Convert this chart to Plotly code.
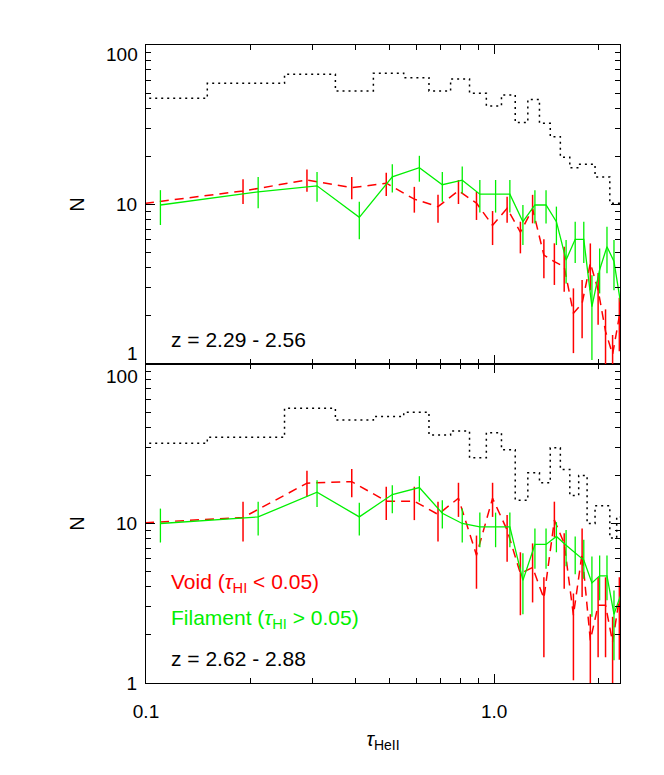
import plotly.graph_objects as go

# ---------------- data ----------------
tau_bins = [0.1, 0.2, 0.3, 0.4, 0.5, 0.6, 0.7, 0.8, 0.9, 1.0, 1.1, 1.2,
            1.3, 1.4, 1.5, 1.6, 1.7, 1.8, 1.9, 2.0, 2.1, 2.2, 2.3]
bin_half = 0.05
offset = 0.01   # void points plotted slightly left, filament slightly right

# top panel z = 2.29 - 2.56
hist_top = [46.3, 57.5, 65.5, 51.5, 66.5, 62.4, 51.5, 61.2, 49.8, 41.5, 48.6, 32.7,
            45.6, 32.3, 26.6, 19.8, 17.0, 17.9, 17.9, 14.9, 14.9, 10.2, 10.2]
void_top = [9.9, 12.15, 14.25, 12.75, 13.6, 10.8, 9.69, 12.2, 10.2, 7.4, 9.46, 6.7,
            9.4, 4.82, 4.38, 4.07, 2.08, 2.4, 4.3, 2.91, 1.6, 1.15, 2.0]
void_top_hi = [12.3, 14.4, 16.6, 14.9, 15.8, 12.9, 11.5, 14.25, 12.0, 9.1, 11.2, 7.8,
               11.5, 6.05, 5.71, 5.44, 2.98, 3.36, 5.7, 3.72, 2.2, 1.52, 2.6]
void_top_lo = [7.8, 10.07, 12.0, 10.8, 11.3, 8.89, 7.69, 10.07, 8.0, 5.57, 7.69, 4.94,
               7.62, 3.45, 3.13, 2.84, 1.17, 1.45, 2.9, 1.76, 0.9, 0.8, 1.2]
fil_top = [9.93, 12.0, 13.1, 8.31, 14.9, 17.0, 13.3, 14.2, 11.6, 11.6, 11.6, 7.8,
           9.93, 9.93, 7.8, 4.49, 6.05, 6.05, 2.29, 3.9, 5.44, 4.4, 2.4]
fil_top_hi = [12.3, 14.9, 16.0, 10.4, 17.9, 20.2, 16.0, 17.3, 14.25, 14.25, 14.25, 9.93,
              12.3, 12.3, 9.7, 6.0, 7.8, 7.8, 3.6, 5.3, 7.26, 6.0, 3.4]
fil_top_lo = [7.44, 9.46, 10.4, 6.05, 11.9, 13.9, 10.4, 11.7, 8.9, 8.9, 8.9, 5.57,
              7.6, 7.6, 5.57, 3.2, 4.3, 4.3, 1.06, 2.77, 3.7, 2.9, 1.5]

# bottom panel z = 2.62 - 2.88
hist_bot = [31.8, 34.7, 52.8, 44.6, 46.8, 49.8, 35.9, 38.0, 25.8, 37.1, 29.0, 14.0,
            20.8, 18.0, 29.8, 21.8, 15.0, 20.0, 10.0, 12.9, 12.9, 8.1, 11.0]
void_bot = [10.0, 10.9, 17.9, 18.3, 13.8, 13.8, 11.4, 14.4, 6.33, 14.4, 9.1, 4.86,
            5.3, 3.39, 10.5, 7.5, 2.66, 6.5, 1.85, 3.07, 3.07, 1.8, 3.4]
void_bot_hi = [12.5, 13.7, 21.4, 22.0, 17.0, 17.0, 13.7, 18.0, 8.4, 18.0, 11.3, 6.6,
               7.5, 4.6, 13.7, 8.7, 3.64, 9.3, 2.7, 4.6, 4.6, 2.6, 4.6]
void_bot_lo = [7.6, 7.7, 14.7, 14.6, 10.5, 10.5, 7.7, 11.0, 3.9, 11.0, 5.75, 2.66,
               3.2, 1.45, 8.2, 3.9, 1.04, 3.46, 0.9, 1.45, 1.45, 0.9, 1.4]
fil_bot = [10.0, 11.0, 15.7, 11.0, 15.2, 16.8, 11.6, 10.0, 9.53, 9.53, 9.53, 4.4,
           7.39, 7.39, 8.3, 7.3, 6.5, 5.9, 4.24, 4.7, 4.7, 2.7, 3.55]
fil_bot_hi = [12.4, 13.7, 18.7, 13.5, 17.4, 19.8, 14.0, 12.4, 11.7, 11.7, 11.7, 6.5,
              9.3, 9.3, 10.2, 9.1, 8.3, 7.9, 6.2, 6.3, 6.3, 3.8, 4.6]
fil_bot_lo = [7.6, 8.4, 12.7, 8.4, 11.6, 13.7, 9.3, 7.6, 7.1, 7.1, 7.1, 2.7,
              5.2, 5.2, 6.6, 5.4, 4.8, 4.5, 2.6, 3.3, 3.3, 1.39, 2.5]

x_ticks = [0.1, 1.0]
x_ticktext = ["0.1", "1.0"]
x_minor = [0.2, 0.3, 0.4, 0.5, 0.6, 0.7, 0.8, 0.9, 2.0]
y_minor = [2, 3, 4, 5, 6, 7, 8, 9, 20, 30, 40, 50, 60, 70, 80, 90]

RED = "#ff0000"
GREEN = "#00f000"
FONT = "Liberation Sans, Arial, Helvetica, sans-serif"

# page geometry (the html body adds an 8 px margin)
BODY = 8
W, H = 664 - BODY, 775 - BODY
L_PX, R_PX, T_PX, B_PX = 145.5, 620, 45, 683   # plot area in screenshot pixels

x_void = [t - offset for t in tau_bins]
x_fil = [t + offset for t in tau_bins]


def steps(centers, vals):
    xs, ys = [], []
    for c, v in zip(centers, vals):
        xs += [c - bin_half, c + bin_half]
        ys += [v, v]
    return xs, ys


fig = go.Figure()


def add_panel(xa, ya, hist, vv, vhi, vlo, fv, fhi, flo):
    hx, hy = steps(tau_bins, hist)
    fig.add_trace(go.Scatter(x=hx, y=hy, mode="lines", xaxis=xa, yaxis=ya,
                             line=dict(color="black", width=1.5, dash="2px,4px"),
                             showlegend=False, hoverinfo="skip"))
    fig.add_trace(go.Scatter(
        x=x_void, y=vv, mode="lines", xaxis=xa, yaxis=ya,
        line=dict(color=RED, width=1.5, dash="9px,6px"),
        error_y=dict(type="data", symmetric=False,
                     array=[h - v for h, v in zip(vhi, vv)],
                     arrayminus=[v - l for v, l in zip(vv, vlo)],
                     width=0, thickness=1.5, color=RED),
        showlegend=False))
    fig.add_trace(go.Scatter(
        x=x_fil, y=fv, mode="lines", xaxis=xa, yaxis=ya,
        line=dict(color=GREEN, width=1.3),
        error_y=dict(type="data", symmetric=False,
                     array=[h - v for h, v in zip(fhi, fv)],
                     arrayminus=[v - l for v, l in zip(fv, flo)],
                     width=0, thickness=1.3, color=GREEN),
        showlegend=False))


add_panel("x2", "y2", hist_top, void_top, void_top_hi, void_top_lo,
          fil_top, fil_top_hi, fil_top_lo)
add_panel("x", "y", hist_bot, void_bot, void_bot_hi, void_bot_lo,
          fil_bot, fil_bot_hi, fil_bot_lo)

common = dict(type="log", showgrid=False, zeroline=False, showline=True,
              linecolor="black", linewidth=1, mirror="ticks", ticks="inside",
              ticklen=9, tickwidth=1, tickcolor="black",
              tickfont=dict(family=FONT, size=19, color="black"))
minor = dict(ticks="inside", ticklen=5, tickcolor="black", showgrid=False)

xr = [-1, 0.3617]
fig.update_layout(
    width=W, height=H,
    margin=dict(l=L_PX - BODY, r=W - (R_PX - BODY), t=T_PX - BODY, b=H - (B_PX - BODY),
                autoexpand=False),
    paper_bgcolor="white", plot_bgcolor="white",
    font=dict(family=FONT, color="black"),
    xaxis=dict(common, domain=[0, 1], anchor="y", range=xr,
               tickvals=x_ticks, ticktext=x_ticktext, ticklabelstandoff=11,
               minor=dict(minor, tickvals=x_minor),
               title=dict(text="<i>τ</i><sub>HeII</sub>", font=dict(family=FONT, size=20),
                          standoff=11)),
    xaxis2=dict(common, domain=[0, 1], anchor="y2", range=xr, matches="x",
                showticklabels=False, tickvals=x_ticks,
                minor=dict(minor, tickvals=x_minor)),
    yaxis=dict(common, domain=[0, 0.5], anchor="x", range=[0, 2],
               tickvals=[1, 10], ticktext=["1", "10"], ticklabelstandoff=4,
               minor=dict(minor, tickvals=y_minor),
               title=dict(text="N", font=dict(family=FONT, size=20), standoff=26)),
    yaxis2=dict(common, domain=[0.5, 1], anchor="x2", range=[0, 2],
                tickvals=[10], ticktext=["10"], ticklabelstandoff=4,
                minor=dict(minor, tickvals=y_minor),
                title=dict(text="N", font=dict(family=FONT, size=20), standoff=26)),
)


def py(ypx):
    return (B_PX - ypx) / (B_PX - T_PX)


def px(xpx):
    return (xpx - L_PX) / (R_PX - L_PX)


# edge tick labels nudged inside their panel (as in the original)
for txt, ypx in [("100", 54), ("1", 353), ("100", 376)]:
    fig.add_annotation(text=txt, xref="paper", yref="paper", x=0, y=py(ypx),
                       xanchor="right", yanchor="middle", xshift=-6, showarrow=False,
                       font=dict(family=FONT, size=19, color="black"))

notes = [
    ("z = 2.29 - 2.56", 339, "black"),
    ("z = 2.62 - 2.88", 658, "black"),
    ("Void (<i>τ</i><sub>HI</sub> &lt; 0.05)", 583, RED),
    ("Filament (<i>τ</i><sub>HI</sub> &gt; 0.05)", 619, GREEN),
]
for txt, ypx, col in notes:
    fig.add_annotation(text=txt, xref="paper", yref="paper", x=px(169), y=py(ypx),
                       xanchor="left", yanchor="middle", showarrow=False,
                       font=dict(family=FONT, size=21, color=col))

fig.write_html("out.html")
